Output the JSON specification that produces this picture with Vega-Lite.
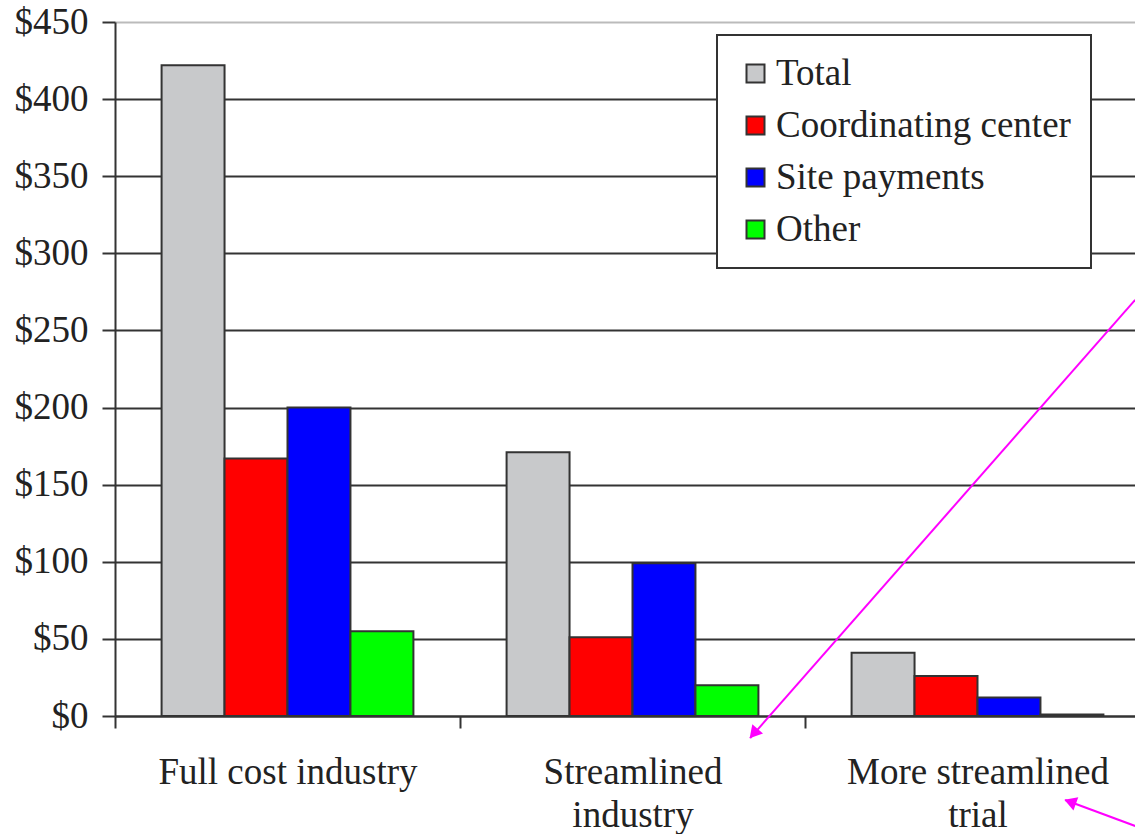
{
  "$schema": "https://vega.github.io/schema/vega-lite/v6.json",
  "width": 1035,
  "height": 694,
  "autosize": {"type": "none"},
  "padding": {"left": 115, "top": 22, "right": 0, "bottom": 118},
  "background": "white",
  "config": {
    "view": {"stroke": null},
    "font": "Liberation Serif",
    "axis": {
      "labelFont": "Liberation Serif",
      "labelFontSize": 37,
      "labelColor": "#222",
      "domainColor": "#333",
      "tickColor": "#333",
      "domainWidth": 2,
      "tickWidth": 2,
      "gridWidth": 2
    },
    "legend": {"strokeWidth": 2}
  },
  "datasets": {
    "costs": [
      {"scenario": "Full cost industry", "component": "Total", "cost": 422},
      {"scenario": "Full cost industry", "component": "Coordinating center", "cost": 167},
      {"scenario": "Full cost industry", "component": "Site payments", "cost": 200},
      {"scenario": "Full cost industry", "component": "Other", "cost": 55},
      {"scenario": "Streamlined industry", "component": "Total", "cost": 171},
      {"scenario": "Streamlined industry", "component": "Coordinating center", "cost": 51},
      {"scenario": "Streamlined industry", "component": "Site payments", "cost": 99},
      {"scenario": "Streamlined industry", "component": "Other", "cost": 20},
      {"scenario": "More streamlined trial", "component": "Total", "cost": 41},
      {"scenario": "More streamlined trial", "component": "Coordinating center", "cost": 26},
      {"scenario": "More streamlined trial", "component": "Site payments", "cost": 12},
      {"scenario": "More streamlined trial", "component": "Other", "cost": 1}
    ],
    "arrows": [
      {"arrow": "a", "x0": 2.957, "y0": 269.8, "x1": 1.841, "y1": -14.3, "hx": 1.855, "hy": -10.4},
      {"arrow": "b", "x0": 2.957, "y0": -71.3, "x1": 2.754, "y1": -54.5, "hx": 2.774, "hy": -56.1}
    ]
  },
  "layer": [
    {
      "data": {"name": "costs"},
      "mark": {"type": "bar", "stroke": "#333", "strokeWidth": 2},
      "encoding": {
        "x": {
          "field": "scenario",
          "type": "nominal",
          "sort": ["Full cost industry", "Streamlined industry", "More streamlined trial"],
          "scale": {"paddingInner": 0, "paddingOuter": 0},
          "axis": {
            "title": null,
            "tickBand": "extent",
            "tickSize": 12,
            "labelPadding": 26,
            "labelAngle": 0,
            "labelLimit": 0,
            "labelLineHeight": 43,
            "labelExpr": "datum.value == 'Streamlined industry' ? ['Streamlined', 'industry'] : datum.value == 'More streamlined trial' ? ['More streamlined', 'trial'] : datum.value"
          }
        },
        "xOffset": {
          "field": "component",
          "type": "nominal",
          "sort": ["Total", "Coordinating center", "Site payments", "Other"],
          "scale": {"paddingInner": 0, "paddingOuter": 0.74}
        },
        "y": {
          "field": "cost",
          "type": "quantitative",
          "scale": {"domain": [0, 450], "nice": false},
          "axis": {
            "title": null,
            "values": [0, 50, 100, 150, 200, 250, 300, 350, 400, 450],
            "labelExpr": "'$' + datum.value",
            "tickSize": 13,
            "labelPadding": 14,
            "grid": true,
            "gridColor": {"condition": {"test": "datum.value == 450", "value": "#bbbbbb"}, "value": "#333333"}
          }
        },
        "color": {
          "field": "component",
          "type": "nominal",
          "sort": ["Total", "Coordinating center", "Site payments", "Other"],
          "scale": {
            "domain": ["Total", "Coordinating center", "Site payments", "Other"],
            "range": ["#c8c9cb", "#ff0000", "#0000ff", "#00ff00"]
          },
          "legend": {
            "title": null,
            "orient": "none",
            "legendX": 602,
            "legendY": 13,
            "strokeColor": "#333",
            "fillColor": "white",
            "padding": 20,
            "symbolOffset": 0,
            "symbolType": "square",
            "symbolSize": 324,
            "symbolStrokeColor": "#333",
            "symbolStrokeWidth": 2,
            "labelFont": "Liberation Serif",
            "labelFontSize": 37,
            "labelColor": "#222",
            "labelOffset": 2,
            "labelLimit": 0,
            "rowPadding": 14
          }
        }
      }
    },
    {
      "data": {"name": "arrows"},
      "mark": {"type": "rule", "color": "#ff00ff", "strokeWidth": 2, "clip": false},
      "encoding": {
        "x": {"field": "x0", "type": "quantitative", "scale": {"domain": [0, 3], "nice": false}, "axis": null},
        "x2": {"field": "x1"},
        "y": {"field": "y0", "type": "quantitative"},
        "y2": {"field": "y1"}
      }
    },
    {
      "data": {"name": "arrows"},
      "transform": [{"filter": "datum.arrow == 'a'"}],
      "mark": {"type": "point", "shape": "triangle", "filled": true, "color": "#ff00ff", "opacity": 1, "size": 200, "angle": 221, "clip": false},
      "encoding": {
        "x": {"field": "hx", "type": "quantitative", "scale": {"domain": [0, 3], "nice": false}, "axis": null},
        "y": {"field": "hy", "type": "quantitative"}
      }
    },
    {
      "data": {"name": "arrows"},
      "transform": [{"filter": "datum.arrow == 'b'"}],
      "mark": {"type": "point", "shape": "triangle", "filled": true, "color": "#ff00ff", "opacity": 1, "size": 200, "angle": 290, "clip": false},
      "encoding": {
        "x": {"field": "hx", "type": "quantitative", "scale": {"domain": [0, 3], "nice": false}, "axis": null},
        "y": {"field": "hy", "type": "quantitative"}
      }
    }
  ],
  "resolve": {"scale": {"x": "independent"}}
}
